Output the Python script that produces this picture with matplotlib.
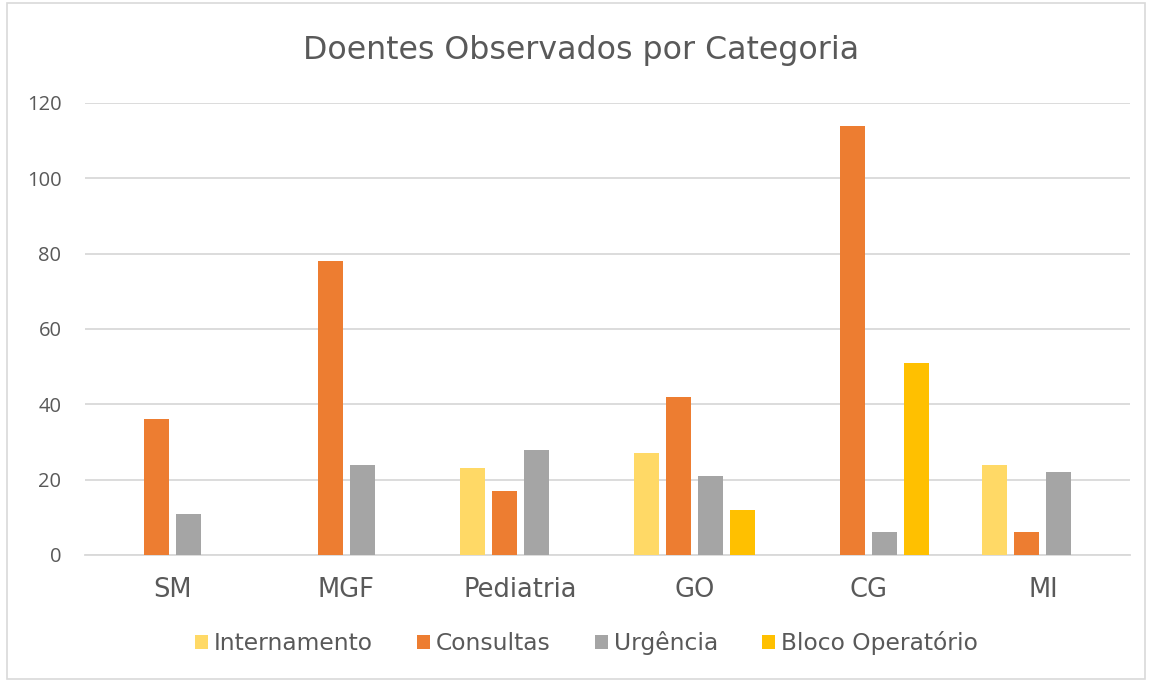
import numpy as np
import matplotlib.pyplot as plt
from matplotlib.patches import Rectangle

categorias = ["SM", "MGF", "Pediatria", "GO", "CG", "MI"]
series = ["Internamento", "Consultas", "Urgência", "Bloco Operatório"]
internamento = [0, 0, 23, 27, 0, 24]
consultas = [36, 78, 17, 42, 114, 6]
urgencia = [11, 24, 28, 21, 6, 22]
bloco = [0, 0, 0, 12, 51, 0]
cores = ["#FFD966", "#ED7D31", "#A5A5A5", "#FFC000"]
y_ticks = [0, 20, 40, 60, 80, 100, 120]

fig = plt.figure(figsize=(11.5, 6.8), dpi=100)
ax = fig.add_axes([85 / 1150, 1 - 555 / 680, 1045 / 1150, 452 / 680])

# light border around the chart area, like the Excel chart frame
fig.patches.append(Rectangle((7 / 1150, 0.002), 1138 / 1150, 0.994,
                             transform=fig.transFigure, fill=False,
                             edgecolor="#D9D9D9", linewidth=1.2))

x = np.arange(len(categorias))
pitch = 0.184
width = 0.1435
for i, (nome, vals) in enumerate(zip(series, [internamento, consultas, urgencia, bloco])):
    ax.bar(x + (i - 1.5) * pitch, vals, width=width, color=cores[i], label=nome, zorder=3)

ax.set_xlim(-0.5, len(categorias) - 0.5)
ax.set_ylim(0, 120)
ax.set_yticks(y_ticks)
ax.yaxis.grid(True, color="#D9D9D9", linewidth=1.3, zorder=0)
ax.set_axisbelow(True)
for s in ["top", "right", "left"]:
    ax.spines[s].set_visible(False)
ax.spines["bottom"].set_color("#D9D9D9")
ax.spines["bottom"].set_linewidth(1.3)
ax.tick_params(length=0)
ax.set_xticks(x)
ax.set_xticklabels(categorias, fontsize=18.5, color="#595959", family="DejaVu Sans")
ax.tick_params(axis="x", pad=16)
ax.tick_params(axis="y", pad=17)
for t in ax.get_yticklabels():
    t.set_fontsize(14.5)
    t.set_color("#595959")
    t.set_family("Open Sans")

fig.text(0.505, 1 - 50 / 680, "Doentes Observados por Categoria", ha="center", va="center",
         fontsize=22.8, color="#595959", family="DejaVu Sans")

leg = fig.legend(loc="center", bbox_to_anchor=(0.51, 1 - 643 / 680), ncol=4, frameon=False,
                 handlelength=0.55, handleheight=0.55, handletextpad=0.25, columnspacing=1.9,
                 prop={"family": "DejaVu Sans", "size": 16.8})
for t in leg.get_texts():
    t.set_color("#595959")

fig.savefig("out.png", dpi=100)
